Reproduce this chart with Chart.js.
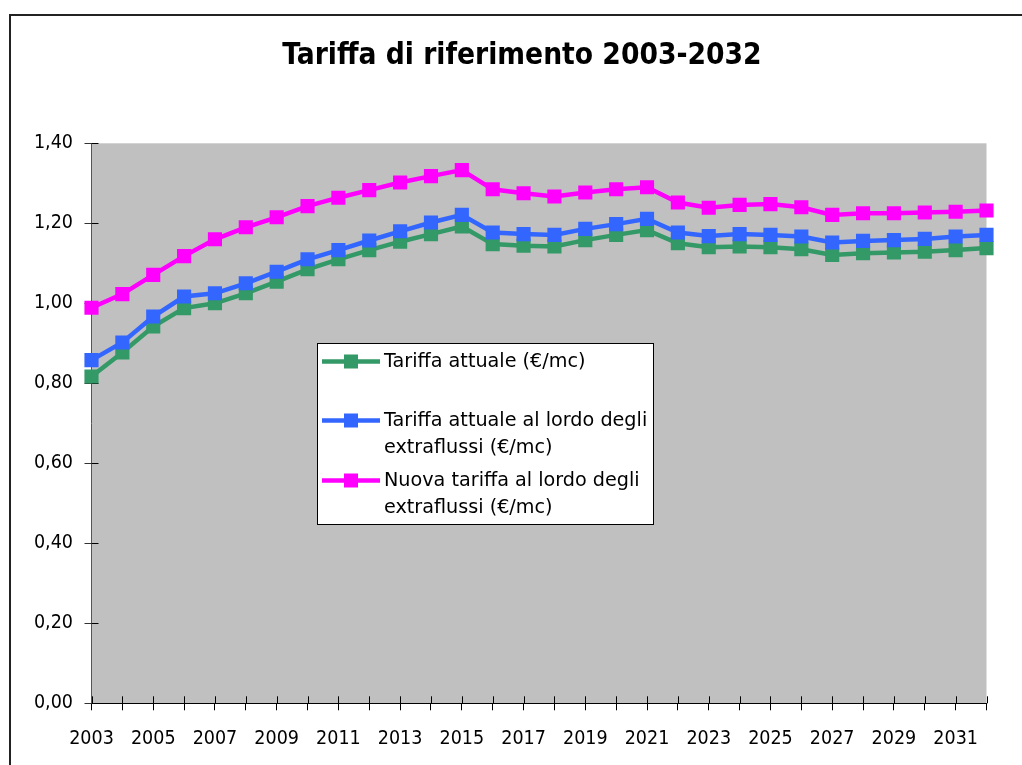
<!DOCTYPE html>
<html>
<head>
<meta charset="utf-8">
<script src="https://cdn.jsdelivr.net/npm/chart.js@4"></script>
<style>
  html, body { margin: 0; padding: 0; background: #fff; }
  #wrap { position: relative; width: 1022px; height: 765px; }
</style>
</head>
<body>
<div id="wrap"><canvas id="c" width="1022" height="765"></canvas></div>
<script>
const years = ["2003","2004","2005","2006","2007","2008","2009","2010","2011","2012",
               "2013","2014","2015","2016","2017","2018","2019","2020","2021","2022",
               "2023","2024","2025","2026","2027","2028","2029","2030","2031","2032"];

const tariffaAttuale = [0.817,0.877,0.942,0.988,1.000,1.025,1.054,1.085,1.110,1.133,
                        1.154,1.173,1.192,1.148,1.144,1.142,1.158,1.171,1.183,1.150,
                        1.140,1.142,1.140,1.135,1.121,1.125,1.127,1.129,1.133,1.138];

const tariffaLordo = [0.858,0.902,0.967,1.017,1.025,1.050,1.079,1.110,1.133,1.157,
                      1.180,1.202,1.221,1.177,1.173,1.171,1.186,1.198,1.211,1.177,
                      1.168,1.173,1.171,1.167,1.152,1.156,1.158,1.161,1.167,1.171];

const nuovaTariffa = [0.989,1.023,1.071,1.118,1.160,1.190,1.215,1.243,1.264,1.283,
                      1.302,1.318,1.333,1.285,1.275,1.267,1.277,1.285,1.290,1.252,
                      1.239,1.246,1.248,1.240,1.221,1.225,1.225,1.227,1.229,1.232];

const seriesLabels = [
  ["Tariffa attuale (€/mc)"],
  ["Tariffa attuale al lordo degli", "extraflussi (€/mc)"],
  ["Nuova tariffa al lordo degli", "extraflussi (€/mc)"]
];
const seriesColors = ["#339966", "#3366FF", "#FF00FF"];
const titleText = "Tariffa di riferimento 2003-2032";

const FONT = "'DejaVu Sans Condensed', 'DejaVu Sans', sans-serif";
const LEGEND_FONT = "'DejaVu Sans', sans-serif";

const framePlugin = {
  id: 'frame',
  beforeDraw(chart) {
    const ctx = chart.ctx, a = chart.chartArea;
    ctx.save();
    ctx.fillStyle = '#ffffff';
    ctx.fillRect(0, 0, chart.width, chart.height);
    ctx.strokeStyle = '#222';
    ctx.lineWidth = 2;
    ctx.strokeRect(10, 15, 1200, 1000);
    ctx.fillStyle = '#C0C0C0';
    ctx.fillRect(a.left, a.top, a.right - a.left, a.bottom - a.top);
    // title
    ctx.fillStyle = '#000';
    ctx.font = "bold 29.6px " + FONT;
    ctx.textAlign = 'center';
    ctx.textBaseline = 'middle';
    ctx.fillText(titleText, 522, 56.2);
    ctx.restore();
  },
  beforeDatasetsDraw(chart) {
    const ctx = chart.ctx, a = chart.chartArea;
    const xs = chart.scales.x, ys = chart.scales.y;
    ctx.save();
    ctx.strokeStyle = '#000';
    ctx.lineWidth = 1;
    ctx.beginPath();
    for (let i = 0; i < xs.ticks.length; i++) {
      const px = Math.round(xs.getPixelForTick(i)) + 0.5;
      ctx.moveTo(px, a.bottom);
      ctx.lineTo(px, a.bottom - 7);
    }
    for (let i = 0; i < ys.ticks.length; i++) {
      const py = Math.round(ys.getPixelForTick(i)) + 0.5;
      ctx.moveTo(a.left, py);
      ctx.lineTo(a.left + 7, py);
    }
    ctx.stroke();
    ctx.restore();
  }
};

const legendPlugin = {
  id: 'boxLegend',
  afterDraw(chart) {
    const ctx = chart.ctx;
    const bx = 317, by = 343, bw = 336, bh = 181;
    ctx.save();
    ctx.fillStyle = '#fff';
    ctx.fillRect(bx, by, bw, bh);
    ctx.strokeStyle = '#000';
    ctx.lineWidth = 1;
    ctx.strokeRect(bx + 0.5, by + 0.5, bw, bh);
    const rows = [18.5, 77.5, 137.5];
    chart.data.datasets.forEach((ds, i) => {
      const y = by + rows[i];
      ctx.strokeStyle = ds.borderColor;
      ctx.lineWidth = 4.5;
      ctx.beginPath();
      ctx.moveTo(bx + 5, y);
      ctx.lineTo(bx + 63, y);
      ctx.stroke();
      ctx.fillStyle = ds.borderColor;
      ctx.fillRect(bx + 34 - 7, y - 7, 14, 14);
      ctx.fillStyle = '#000';
      ctx.font = "19.2px " + LEGEND_FONT;
      ctx.textBaseline = 'middle';
      ctx.textAlign = 'left';
      ds.legendLines.forEach((t, k) => {
        ctx.fillText(t, bx + 67, y + 1 + k * 27);
      });
    });
    ctx.restore();
  }
};

function mkDataset(label, data, color, order) {
  return {
    label: label.join(' '),
    legendLines: label,
    data: data,
    borderColor: color,
    backgroundColor: color,
    borderWidth: 4.5,
    pointStyle: 'rect',
    pointRadius: 10,
    pointHoverRadius: 10,
    pointBorderWidth: 0,
    pointBackgroundColor: color,
    tension: 0,
    order: order
  };
}

new Chart(document.getElementById('c'), {
  type: 'line',
  data: {
    labels: years,
    datasets: [
      mkDataset(seriesLabels[0], tariffaAttuale, seriesColors[0], 3),
      mkDataset(seriesLabels[1], tariffaLordo, seriesColors[1], 2),
      mkDataset(seriesLabels[2], nuovaTariffa, seriesColors[2], 1)
    ]
  },
  options: {
    responsive: false,
    animation: false,
    devicePixelRatio: 1,
    layout: { padding: { left: 0, right: 35.5, top: 143.3, bottom: 0 } },
    plugins: {
      legend: { display: false },
      tooltip: { enabled: false },
      title: { display: false, text: titleText }
    },
    scales: {
      x: {
        type: 'category',
        offset: false,
        border: { display: true, color: '#000', width: 1 },
        grid: { display: true, drawOnChartArea: false, drawTicks: true, tickLength: 7, color: '#000' },
        ticks: {
          autoSkip: false,
          maxRotation: 0,
          minRotation: 0,
          color: '#000',
          padding: 17,
          font: { family: FONT, size: 19.5 },
          callback: function(v, i) { return i % 2 === 0 ? this.getLabelForValue(v) : ''; }
        },
        afterFit(scale) { scale.height = 61.7; }
      },
      y: {
        min: 0,
        max: 1.4,
        border: { display: true, color: '#555', width: 1 },
        grid: { display: true, drawOnChartArea: false, drawTicks: true, tickLength: 7, color: '#333' },
        ticks: {
          stepSize: 0.2,
          color: '#000',
          padding: 11.5,
          font: { family: FONT, size: 19.5 },
          callback: (v) => v.toFixed(2).replace('.', ',')
        },
        afterFit(scale) { scale.width = 91.5; }
      }
    }
  },
  plugins: [framePlugin, legendPlugin]
});
</script>
</body>
</html>
